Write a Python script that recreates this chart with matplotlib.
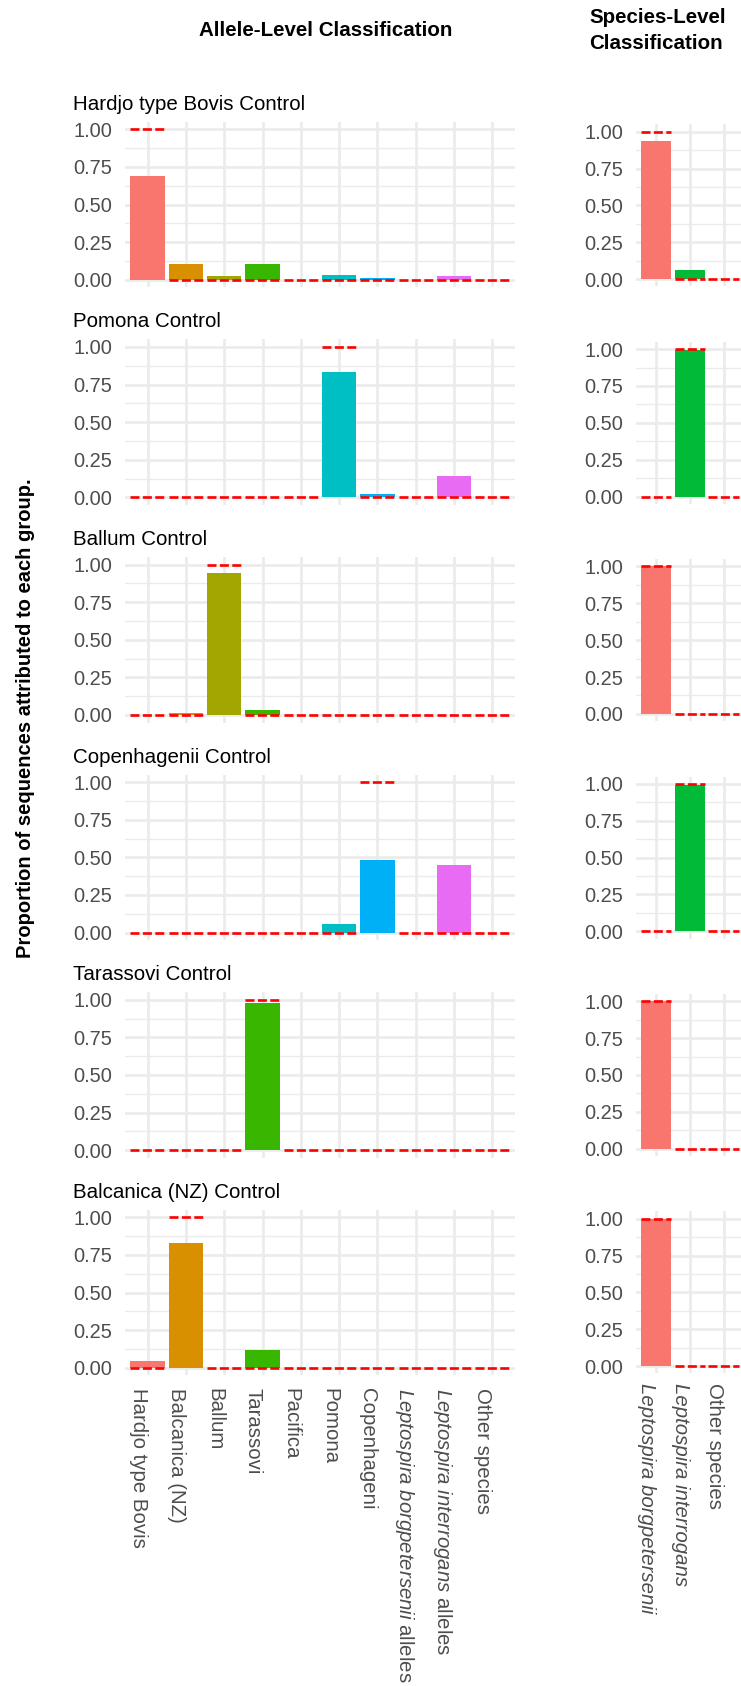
import numpy as np
import matplotlib.pyplot as plt

plt.rcParams['font.family'] = ['Liberation Sans', 'DejaVu Sans']
plt.rcParams['mathtext.fontset'] = 'custom'
plt.rcParams['mathtext.rm'] = 'Liberation Sans'
plt.rcParams['mathtext.it'] = 'Liberation Sans:italic'

# groups on each x axis
allele_groups = ['Hardjo type Bovis', 'Balcanica (NZ)', 'Ballum', 'Tarassovi', 'Pacifica',
                 'Pomona', 'Copenhageni', 'Leptospira borgpetersenii alleles',
                 'Leptospira interrogans alleles', 'Other species']
allele_labels = ['Hardjo type Bovis', 'Balcanica (NZ)', 'Ballum', 'Tarassovi', 'Pacifica',
                 'Pomona', 'Copenhageni', r'$\mathit{Leptospira\ borgpetersenii}$ alleles',
                 r'$\mathit{Leptospira\ interrogans}$ alleles', 'Other species']
species_groups = ['Leptospira borgpetersenii', 'Leptospira interrogans', 'Other species']
species_italic = [True, True, False]

controls = ['Hardjo type Bovis Control', 'Pomona Control', 'Ballum Control',
            'Copenhagenii Control', 'Tarassovi Control', 'Balcanica (NZ) Control']

# true group of each control sample
allele_expected = ['Hardjo type Bovis', 'Pomona', 'Ballum', 'Copenhageni', 'Tarassovi', 'Balcanica (NZ)']
species_expected = ['Leptospira borgpetersenii', 'Leptospira interrogans', 'Leptospira borgpetersenii',
                    'Leptospira interrogans', 'Leptospira borgpetersenii', 'Leptospira borgpetersenii']

# observed proportions, allele level
hardjo_allele = [0.69, 0.105, 0.027, 0.105, 0, 0.033, 0.013, 0, 0.027, 0]
pomona_allele = [0, 0, 0, 0, 0, 0.831, 0.024, 0, 0.144, 0]
ballum_allele = [0, 0.012, 0.943, 0.033, 0, 0, 0, 0, 0, 0]
copenhagenii_allele = [0, 0, 0, 0, 0, 0.057, 0.484, 0, 0.450, 0]
tarassovi_allele = [0, 0, 0, 0.98, 0, 0, 0, 0, 0, 0]
balcanica_allele = [0.043, 0.83, 0, 0.117, 0, 0, 0, 0, 0, 0]

# observed proportions, species level
hardjo_species = [0.935, 0.065, 0]
pomona_species = [0, 0.995, 0]
ballum_species = [1.0, 0, 0]
copenhagenii_species = [0, 0.99, 0]
tarassovi_species = [1.0, 0, 0]
balcanica_species = [1.0, 0, 0]

allele_obs = [hardjo_allele, pomona_allele, ballum_allele, copenhagenii_allele, tarassovi_allele, balcanica_allele]
species_obs = [hardjo_species, pomona_species, ballum_species, copenhagenii_species, tarassovi_species, balcanica_species]

allele_colors = ['#F8766D', '#D89000', '#A3A500', '#39B600', '#00BF7D',
                 '#00BFC4', '#00B0F6', '#9590FF', '#E76BF3', '#FF62BC']
species_colors = ['#F8766D', '#00BA38', '#619CFF']

W, H = 741, 1686
fig = plt.figure(figsize=(W / 100, H / 100), dpi=100)

TXT = 14.4
XTXT = 14.7
GRID = '#EBEBEB'


def add_panel(x0, x1, y_one, y_zero):
    # place an axes in pixel coords, given where 1.0 and 0.0 fall
    h = y_zero - y_one
    top = y_one - 0.05 * h
    bot = y_zero + 0.05 * h
    return fig.add_axes([x0 / W, 1 - bot / H, (x1 - x0) / W, (bot - top) / H])


def draw_panel(ax, obs, expected, colors, groups):
    n = len(groups)
    x = np.arange(n)
    ax.set_xlim(-0.6, n - 0.4)
    ax.set_ylim(-0.05, 1.05)
    ax.set_yticks([0, 0.25, 0.5, 0.75, 1.0])
    ax.set_yticklabels(['0.00', '0.25', '0.50', '0.75', '1.00'])
    ax.set_yticks([0.125, 0.375, 0.625, 0.875], minor=True)
    ax.set_xticks(x)
    ax.grid(which='major', color=GRID, lw=1.9)
    ax.grid(which='minor', axis='y', color=GRID, lw=0.95)
    ax.set_axisbelow(True)
    for s in ax.spines.values():
        s.set_visible(False)
    ax.tick_params(which='both', length=0)
    ax.tick_params(axis='y', labelsize=TXT, labelcolor='#4D4D4D', pad=9.2)
    ax.tick_params(axis='x', labelbottom=False)

    ax.bar(x, obs, width=0.9, color=colors, lw=0, zorder=2)
    exp = [1.0 if g == expected else 0.0 for g in groups]
    ax.hlines(exp, x - 0.45, x + 0.45, colors='red', lw=1.9,
              linestyles=[(0, (3.4, 1.3))], zorder=3, clip_on=False)


left_x0, left_x1 = 124.7, 515.3
right_x0, right_x1 = 636.0, 743.8

for i, title in enumerate(controls):
    ly1 = 129.3 + i * 217.6
    ly0 = ly1 + 150.5
    ax = add_panel(left_x0, left_x1, ly1, ly0)
    draw_panel(ax, allele_obs[i], allele_expected[i], allele_colors, allele_groups)
    fig.text(73 / W, 1 - (ly1 - 19.5) / H, title, ha='left', va='baseline',
             fontsize=14.8, color='black')

    ry1 = 131.7 + i * 217.4
    ry0 = ry1 + 147.4
    axr = add_panel(right_x0, right_x1, ry1, ry0)
    draw_panel(axr, species_obs[i], species_expected[i], species_colors, species_groups)

    if i == len(controls) - 1:
        ax.tick_params(axis='x', labelbottom=True, pad=9.4)
        ax.set_xticklabels(allele_labels, rotation=-90, fontsize=XTXT, color='#4D4D4D',
                           ha='right', va='top')
        axr.tick_params(axis='x', labelbottom=True, pad=6.8)
        axr.set_xticklabels(species_groups, rotation=-90, fontsize=XTXT, color='#4D4D4D',
                            ha='right', va='top')
        for lab, it in zip(axr.get_xticklabels(), species_italic):
            if it:
                lab.set_fontstyle('italic')

fig.text(326 / W, 1 - 36 / H, 'Allele-Level Classification', ha='center', va='baseline',
         fontsize=14.8, fontweight='bold')
fig.text(589 / W, 1 - 23.3 / H, 'Species-Level', ha='left', va='baseline',
         fontsize=14.8, fontweight='bold')
fig.text(589 / W, 1 - 49 / H, 'Classification', ha='left', va='baseline',
         fontsize=14.8, fontweight='bold')
fig.text(26 / W, 1 - 718 / H, 'Proportion of sequences attributed to each group.',
         rotation=90, ha='center', va='center', fontsize=14.5, fontweight='bold')

fig.savefig('out.png', dpi=100, facecolor='white')
